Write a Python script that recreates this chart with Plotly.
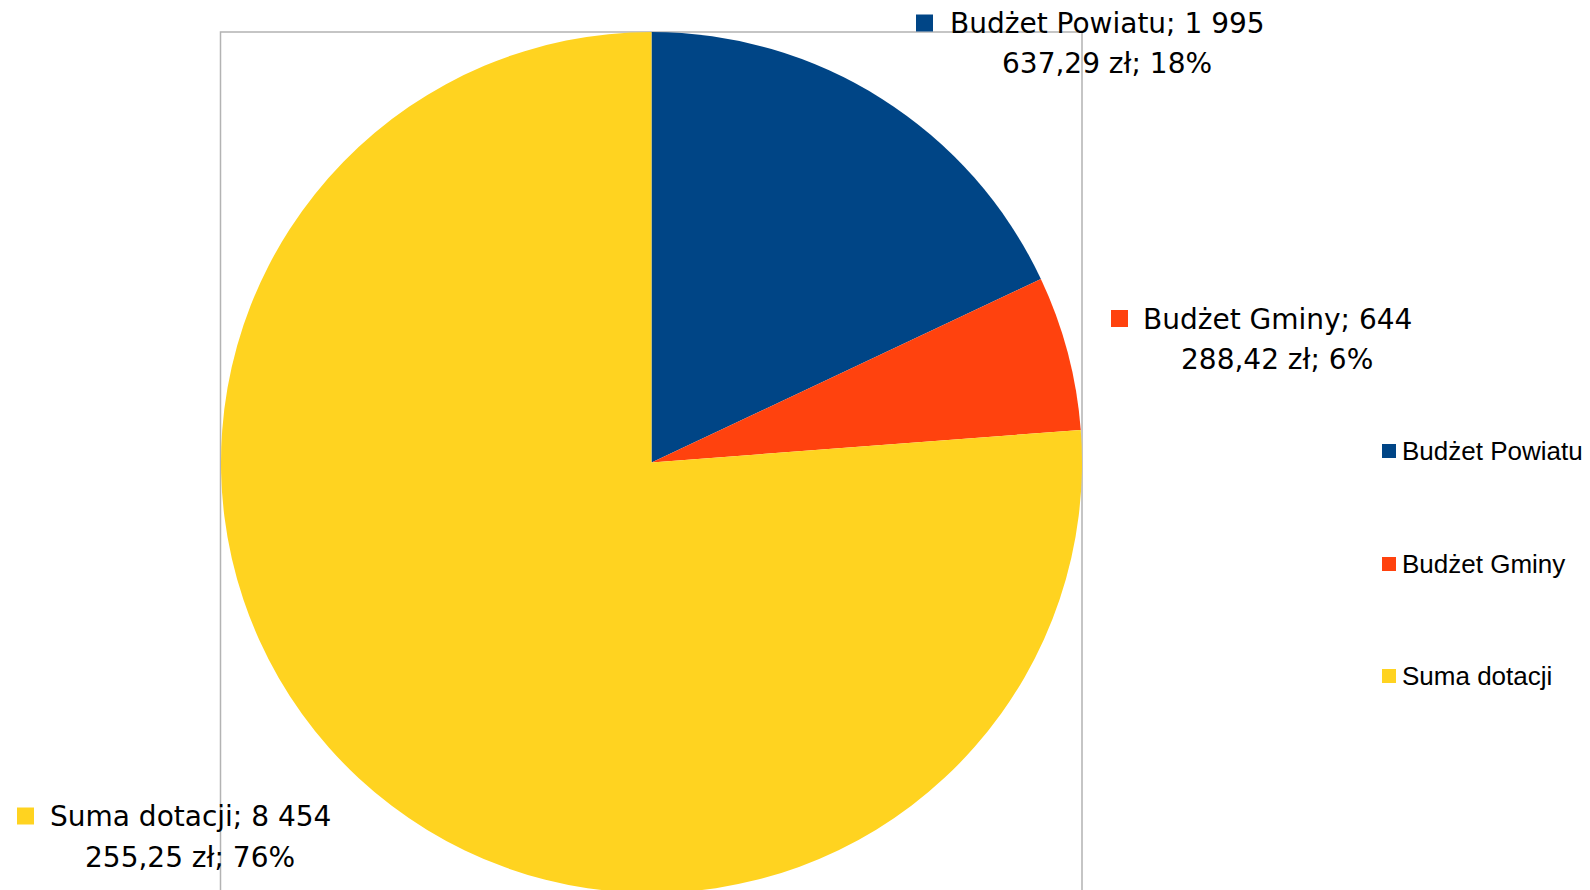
import plotly.graph_objects as go

# ---- data ----
categories = ["Budżet Powiatu", "Budżet Gminy", "Suma dotacji"]
values = [1995637.29, 644288.42, 8454255.25]
value_line1 = ["1 995", "644", "8 454"]
value_line2 = ["637,29 zł", "288,42 zł", "255,25 zł"]
colors = ["#004586", "#ff420e", "#ffd320"]

W, H = 1590, 890
OFF = 8  # page body margin in the browser

def px(x):
    return (x - OFF) / W

def py(y):
    return 1 - (y - OFF) / H

total = sum(values)
pcts = [round(v / total * 100) for v in values]

fig = go.Figure()
fig.add_trace(go.Pie(
    labels=categories,
    values=values,
    marker=dict(colors=colors, line=dict(width=0)),
    sort=False,
    direction="clockwise",
    rotation=0,
    textinfo="none",
    hoverinfo="label+value+percent",
    showlegend=False,
    domain=dict(x=[px(221), px(1082)], y=[py(893), py(32)]),
))

shapes = []
annotations = []

# plot-area frame
shapes.append(dict(type="rect", xref="paper", yref="paper",
                   x0=px(220.5), x1=px(1082), y0=-0.05, y1=py(32),
                   line=dict(color="#b3b3b3", width=1.5), layer="below"))

# data labels (two lines each, centred) with a colour marker
label_layout = [
    # marker_left, marker_y, text_center_x, line1_y, line2_y
    (916, 23, 1107, 24, 64),
    (1111, 318.5, 1277, 319, 359),
    (17, 816, 190, 816, 857),
]
lab_font = dict(family="DejaVu Sans", size=28, color="#000000")
for i, (mx, my, cx, y1, y2) in enumerate(label_layout):
    shapes.append(dict(type="rect", xref="paper", yref="paper",
                       x0=px(mx), x1=px(mx + 17), y0=py(my + 8.5), y1=py(my - 8.5),
                       fillcolor=colors[i], line=dict(width=0)))
    annotations.append(dict(text=f"{categories[i]}; {value_line1[i]}", x=px(cx), y=py(y1),
                            xref="paper", yref="paper", xanchor="center", yanchor="middle",
                            showarrow=False, font=lab_font))
    annotations.append(dict(text=f"{value_line2[i]}; {pcts[i]}%", x=px(cx), y=py(y2),
                            xref="paper", yref="paper", xanchor="center", yanchor="middle",
                            showarrow=False, font=lab_font))

# legend (right side)
legend_y = [451, 564, 676]
leg_font = dict(family="Liberation Sans", size=26, color="#000000")
for i, ly in enumerate(legend_y):
    shapes.append(dict(type="rect", xref="paper", yref="paper",
                       x0=px(1382), x1=px(1396), y0=py(ly + 7), y1=py(ly - 7),
                       fillcolor=colors[i], line=dict(width=0)))
    annotations.append(dict(text=categories[i], x=px(1400), y=py(ly),
                            xref="paper", yref="paper", xanchor="left", yanchor="middle",
                            showarrow=False, font=leg_font))

fig.update_layout(
    width=W, height=H,
    margin=dict(l=0, r=0, t=0, b=0),
    paper_bgcolor="white",
    plot_bgcolor="white",
    shapes=shapes,
    annotations=annotations,
    showlegend=False,
)

fig.write_html("out.html")
